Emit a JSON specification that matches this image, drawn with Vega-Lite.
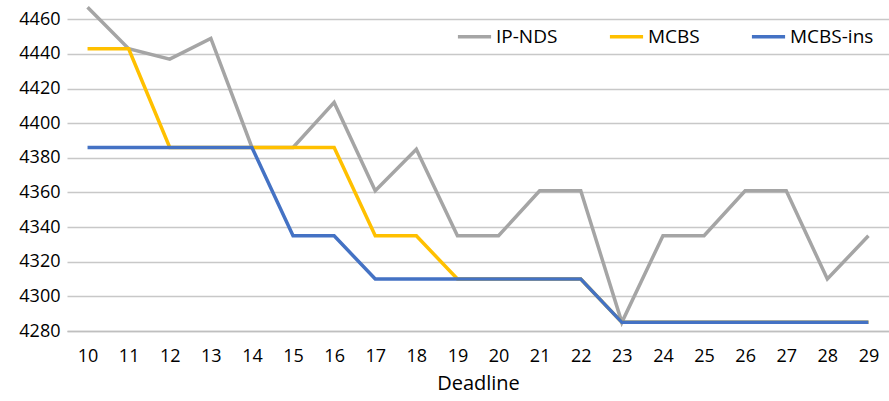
{
  "$schema": "https://vega.github.io/schema/vega-lite/v6.json",
  "autosize": "none",
  "width": 822,
  "height": 329,
  "padding": {"left": 67, "top": 2, "right": 0, "bottom": 70},
  "background": "white",
  "config": {
    "font": "Open Sans",
    "view": {"stroke": null}
  },
  "data": {
    "values": [
      {"d": 10, "s": "IP-NDS", "v": 4467}, {"d": 11, "s": "IP-NDS", "v": 4443}, {"d": 12, "s": "IP-NDS", "v": 4437}, {"d": 13, "s": "IP-NDS", "v": 4449},
      {"d": 14, "s": "IP-NDS", "v": 4386}, {"d": 15, "s": "IP-NDS", "v": 4386}, {"d": 16, "s": "IP-NDS", "v": 4412}, {"d": 17, "s": "IP-NDS", "v": 4361},
      {"d": 18, "s": "IP-NDS", "v": 4385}, {"d": 19, "s": "IP-NDS", "v": 4335}, {"d": 20, "s": "IP-NDS", "v": 4335}, {"d": 21, "s": "IP-NDS", "v": 4361},
      {"d": 22, "s": "IP-NDS", "v": 4361}, {"d": 23, "s": "IP-NDS", "v": 4285}, {"d": 24, "s": "IP-NDS", "v": 4335}, {"d": 25, "s": "IP-NDS", "v": 4335},
      {"d": 26, "s": "IP-NDS", "v": 4361}, {"d": 27, "s": "IP-NDS", "v": 4361}, {"d": 28, "s": "IP-NDS", "v": 4310}, {"d": 29, "s": "IP-NDS", "v": 4335},
      {"d": 10, "s": "MCBS", "v": 4443}, {"d": 11, "s": "MCBS", "v": 4443}, {"d": 12, "s": "MCBS", "v": 4386}, {"d": 13, "s": "MCBS", "v": 4386},
      {"d": 14, "s": "MCBS", "v": 4386}, {"d": 15, "s": "MCBS", "v": 4386}, {"d": 16, "s": "MCBS", "v": 4386}, {"d": 17, "s": "MCBS", "v": 4335},
      {"d": 18, "s": "MCBS", "v": 4335}, {"d": 19, "s": "MCBS", "v": 4310}, {"d": 20, "s": "MCBS", "v": 4310}, {"d": 21, "s": "MCBS", "v": 4310},
      {"d": 22, "s": "MCBS", "v": 4310}, {"d": 23, "s": "MCBS", "v": 4285}, {"d": 24, "s": "MCBS", "v": 4285}, {"d": 25, "s": "MCBS", "v": 4285},
      {"d": 26, "s": "MCBS", "v": 4285}, {"d": 27, "s": "MCBS", "v": 4285}, {"d": 28, "s": "MCBS", "v": 4285}, {"d": 29, "s": "MCBS", "v": 4285},
      {"d": 10, "s": "MCBS-ins", "v": 4386}, {"d": 11, "s": "MCBS-ins", "v": 4386}, {"d": 12, "s": "MCBS-ins", "v": 4386}, {"d": 13, "s": "MCBS-ins", "v": 4386},
      {"d": 14, "s": "MCBS-ins", "v": 4386}, {"d": 15, "s": "MCBS-ins", "v": 4335}, {"d": 16, "s": "MCBS-ins", "v": 4335}, {"d": 17, "s": "MCBS-ins", "v": 4310},
      {"d": 18, "s": "MCBS-ins", "v": 4310}, {"d": 19, "s": "MCBS-ins", "v": 4310}, {"d": 20, "s": "MCBS-ins", "v": 4310}, {"d": 21, "s": "MCBS-ins", "v": 4310},
      {"d": 22, "s": "MCBS-ins", "v": 4310}, {"d": 23, "s": "MCBS-ins", "v": 4285}, {"d": 24, "s": "MCBS-ins", "v": 4285}, {"d": 25, "s": "MCBS-ins", "v": 4285},
      {"d": 26, "s": "MCBS-ins", "v": 4285}, {"d": 27, "s": "MCBS-ins", "v": 4285}, {"d": 28, "s": "MCBS-ins", "v": 4285}, {"d": 29, "s": "MCBS-ins", "v": 4285}
    ]
  },
  "mark": {"type": "line", "strokeWidth": 3.5, "strokeJoin": "miter", "clip": false},
  "encoding": {
    "x": {
      "field": "d", "type": "ordinal", "title": "Deadline",
      "scale": {"type": "point", "padding": 0.5},
      "axis": {
        "labelAngle": 0, "labelFontSize": 18, "labelColor": "#000", "labelPadding": 16,
        "ticks": false, "domain": true, "domainColor": "#BFBFBF", "domainWidth": 1.5,
        "titleFontSize": 20, "titleFontWeight": "normal", "titleColor": "#000", "titlePadding": 8,
        "grid": false
      }
    },
    "y": {
      "field": "v", "type": "quantitative", "title": null,
      "scale": {"domain": [4280, 4470], "nice": false, "zero": false},
      "axis": {
        "values": [4280, 4300, 4320, 4340, 4360, 4380, 4400, 4420, 4440, 4460],
        "format": "d",
        "labelFontSize": 18, "labelColor": "#000", "labelPadding": 7,
        "ticks": false, "domain": false,
        "grid": true, "gridColor": "#C8C8C8", "gridWidth": 1.3
      }
    },
    "color": {
      "field": "s", "type": "nominal",
      "scale": {"domain": ["IP-NDS", "MCBS", "MCBS-ins"], "range": ["#A5A5A5", "#FFC000", "#4472C4"]},
      "legend": {
        "title": null, "orient": "none", "legendX": 389, "legendY": 16, "direction": "horizontal",
        "symbolType": "stroke", "symbolSize": 1100, "symbolStrokeWidth": 3.5,
        "labelFontSize": 19, "labelColor": "#000", "labelOffset": 3, "columnPadding": 44
      }
    }
  }
}
